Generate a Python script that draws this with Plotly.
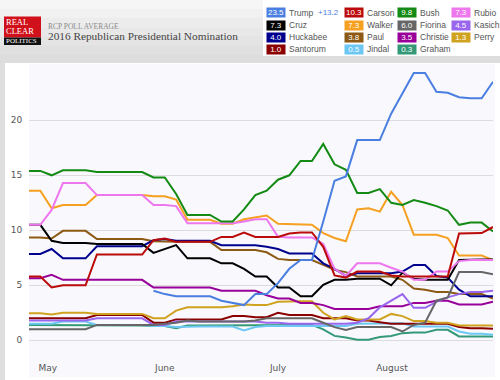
import plotly.graph_objects as go

# ---------------- data ----------------
dates = ["2015-04-28", "2015-05-01", "2015-05-04", "2015-05-07", "2015-05-10", "2015-05-13",
         "2015-05-16", "2015-05-19", "2015-05-22", "2015-05-25", "2015-05-28", "2015-05-31",
         "2015-06-03", "2015-06-06", "2015-06-09", "2015-06-12", "2015-06-15", "2015-06-18",
         "2015-06-21", "2015-06-24", "2015-06-27", "2015-06-30", "2015-07-03", "2015-07-06",
         "2015-07-09", "2015-07-12", "2015-07-15", "2015-07-18", "2015-07-21", "2015-07-24",
         "2015-07-27", "2015-07-30", "2015-08-02", "2015-08-05", "2015-08-08", "2015-08-11",
         "2015-08-14", "2015-08-17", "2015-08-20", "2015-08-23", "2015-08-26", "2015-08-29"]

trump = [None] * 11 + [4.5, 4.2, 4.0, 4.0, 4.0, 4.0, 3.6, 3.4, 3.2, 4.2, 4.2, 5.2, 6.5, 7.3, 7.3,
                       10.8, 14.5, 14.9, 18.2, 18.2, 18.2, 20.6, 22.4, 24.3, 24.3, 22.6, 22.5,
                       22.1, 22.0, 22.0, 23.5]
bush = [15.4, 15.4, 15.0, 15.45, 15.45, 15.45, 15.3, 15.3, 15.3, 15.3, 15.3, 14.8, 14.8, 13.3,
        11.4, 11.4, 11.4, 10.8, 10.8, 11.9, 13.2, 13.6, 14.6, 15.0, 16.3, 16.3, 17.85, 16.0,
        15.5, 13.4, 13.4, 13.75, 12.5, 12.3, 12.75, 12.5, 12.2, 11.8, 10.5, 10.7, 10.7, 9.9]
walker = [13.6, 13.6, 12.0, 12.3, 12.3, 12.3, 13.2, 13.2, 13.2, 13.2, 13.2, 13.1, 13.1, 12.8,
          10.95, 10.95, 10.95, 10.6, 10.6, 11.0, 11.2, 11.35, 10.6, 10.55, 10.55, 10.5, 9.75,
          9.3, 9.0, 11.9, 12.0, 11.7, 13.5, 12.3, 9.6, 9.6, 9.6, 9.3, 7.7, 7.7, 7.7, 7.3]
rubio = [10.5, 10.5, 11.85, 14.3, 14.3, 14.3, 13.2, 13.2, 13.2, 13.2, 13.2, 12.3, 12.3, 12.2,
         10.65, 10.65, 10.65, 10.65, 10.65, 10.8, 11.0, 11.0, 9.4, 9.35, 9.35, 9.35, 8.75, 6.5,
         5.85, 7.0, 7.0, 7.0, 6.6, 6.25, 5.5, 5.5, 6.25, 6.25, 7.2, 7.3, 7.3, 7.3]
carson = [5.8, 5.8, 4.8, 5.0, 5.0, 5.0, 7.8, 7.8, 7.8, 7.8, 7.8, 9.1, 9.25, 8.95, 8.95, 8.95,
          8.95, 9.4, 9.4, 9.8, 9.4, 9.4, 9.4, 9.7, 9.8, 9.8, 8.5, 5.9, 5.7, 6.25, 6.25, 6.25,
          5.9, 5.8, 5.8, 5.8, 5.8, 5.8, 9.7, 9.75, 9.75, 10.3]
cruz = [10.5, 10.5, 9.05, 8.85, 8.85, 8.85, 8.75, 8.75, 8.75, 8.75, 8.75, 7.95, 8.3, 8.65, 7.45,
        7.45, 7.45, 7.0, 7.0, 6.5, 5.8, 5.8, 4.8, 4.8, 4.0, 4.0, 5.05, 5.5, 5.5, 5.6, 5.6, 5.6,
        5.0, 6.15, 5.6, 5.5, 5.5, 5.5, 7.3, 7.35, 7.35, 7.35]
huckabee = [7.85, 7.85, 8.3, 7.45, 7.45, 7.45, 8.55, 8.55, 8.55, 8.55, 8.55, 9.1, 9.2, 9.05,
            9.05, 9.05, 9.05, 8.65, 8.65, 8.65, 8.65, 8.5, 8.3, 7.9, 7.9, 7.9, 7.0, 6.5, 5.85,
            6.1, 6.1, 6.1, 6.1, 6.25, 6.85, 6.85, 5.85, 5.7, 4.6, 4.0, 4.0, 4.0]
paul = [9.35, 9.35, 9.25, 9.95, 9.95, 9.95, 9.2, 9.2, 9.2, 9.2, 9.2, 9.0, 8.95, 8.95, 8.95,
        8.95, 8.95, 8.2, 8.2, 8.2, 8.2, 8.0, 7.4, 7.3, 7.3, 7.3, 6.85, 6.4, 6.2, 5.8, 5.8, 5.8,
        5.8, 5.5, 4.7, 4.6, 4.4, 4.4, 4.2, 4.2, 4.2, 3.8]
christie = [5.65, 5.65, 5.95, 5.5, 5.5, 5.5, 5.5, 5.5, 5.5, 5.5, 5.5, 4.8, 4.8, 4.8, 4.8, 4.8,
            4.8, 4.5, 4.5, 4.5, 4.5, 4.1, 3.8, 3.8, 3.4, 3.4, 3.2, 2.85, 2.85, 2.85, 2.85, 3.1,
            3.1, 3.1, 3.4, 3.4, 3.6, 3.6, 3.25, 3.25, 3.25, 3.5]
fiorina = [1.0, 1.0, 1.0, 1.0, 1.0, 1.0, 1.4, 1.4, 1.4, 1.4, 1.4, 1.4, 1.5, 1.6, 1.8, 1.7, 1.7,
           1.7, 1.7, 1.7, 1.8, 2.0, 2.0, 2.0, 2.0, 2.0, 1.6, 1.2, 0.95, 1.2, 1.2, 1.2, 1.2, 0.8,
           1.4, 1.6, 3.6, 3.9, 6.2, 6.2, 6.2, 6.0]
perry = [2.45, 2.45, 2.35, 2.5, 2.5, 2.5, 2.4, 2.4, 2.4, 2.4, 2.4, 2.0, 2.0, 2.7, 3.0, 3.0, 3.0,
         3.0, 3.1, 3.25, 3.2, 3.2, 3.5, 3.55, 3.55, 3.55, 2.5, 1.9, 2.2, 1.9, 1.9, 1.9, 2.4, 2.2,
         1.75, 1.75, 1.6, 1.6, 1.35, 1.35, 1.35, 1.35]
santorum = [2.0, 2.0, 2.0, 2.0, 2.0, 2.0, 2.3, 2.3, 2.3, 2.3, 2.3, 1.6, 1.6, 1.9, 1.9, 1.9, 1.9,
            1.9, 2.2, 2.2, 2.1, 2.1, 2.5, 2.3, 2.3, 2.3, 2.0, 2.0, 2.0, 1.8, 1.8, 1.65, 1.5, 1.5,
            1.5, 1.5, 1.5, 1.5, 1.2, 1.1, 1.1, 1.05]
kasich = [1.8, 1.8, 1.8, 1.8, 1.8, 1.8, 2.0, 2.0, 2.0, 2.0, 2.0, 1.4, 1.4, 1.7, 1.7, 1.7, 1.7,
          1.7, 1.7, 1.7, 1.7, 1.6, 1.6, 1.5, 1.5, 1.5, 1.5, 1.5, 1.5, 1.6, 2.0, 3.0, 3.6, 4.2,
          2.95, 2.95, 3.5, 3.9, 4.2, 4.4, 4.4, 4.5]
jindal = [1.5, 1.5, 1.5, 1.7, 1.7, 1.7, 1.4, 1.4, 1.4, 1.4, 1.4, 1.3, 1.3, 1.2, 1.25, 1.25, 1.25,
          1.25, 1.25, 0.9, 1.2, 1.3, 1.3, 1.3, 1.3, 1.3, 1.3, 1.3, 1.3, 1.5, 1.5, 1.5, 1.55, 1.55,
          1.25, 1.25, 1.25, 1.25, 0.8, 0.6, 0.6, 0.5]
graham = [1.4, 1.4, 1.4, 1.35, 1.35, 1.35, 1.35, 1.35, 1.35, 1.35, 1.35, 1.3, 1.3, 1.1, 1.35,
          1.35, 1.35, 1.35, 1.35, 1.35, 1.35, 1.4, 1.4, 1.4, 1.4, 1.4, 1.0, 0.4, 0.25, 0.05, 0.05,
          0.3, 0.4, 0.65, 0.7, 0.7, 0.95, 0.95, 0.35, 0.35, 0.35, 0.35]

names = ["Trump", "Carson", "Bush", "Rubio",
         "Cruz", "Walker", "Fiorina", "Kasich",
         "Huckabee", "Paul", "Christie", "Perry",
         "Santorum", "Jindal", "Graham"]
latest = ["23.5", "10.3", "9.8", "7.3",
          "7.3", "7.3", "6.0", "4.5",
          "4.0", "3.8", "3.5", "1.3",
          "1.0", "0.5", "0.3"]
spread = "+13.2"
month_ticks = ["2015-05-03", "2015-06-03", "2015-07-03", "2015-08-02 05:00"]
month_labels = ["May", "June", "July", "August"]
y_ticks = [0, 5, 10, 15, 20]

series = {"Trump": trump, "Carson": carson, "Bush": bush, "Rubio": rubio,
          "Cruz": cruz, "Walker": walker, "Fiorina": fiorina, "Kasich": kasich,
          "Huckabee": huckabee, "Paul": paul, "Christie": christie, "Perry": perry,
          "Santorum": santorum, "Jindal": jindal, "Graham": graham}

colors = {"Trump": "#4a7ee0", "Carson": "#bb0a0a", "Bush": "#138a13", "Rubio": "#ee77ee",
          "Cruz": "#000000", "Walker": "#f5a020", "Fiorina": "#666666", "Kasich": "#9966ee",
          "Huckabee": "#00008f", "Paul": "#8c5a14", "Christie": "#990099", "Perry": "#cfa21f",
          "Santorum": "#8b0000", "Jindal": "#6cc8f2", "Graham": "#339977"}

# ---------------- figure ----------------
W, H = 500, 380
L, R, T, B = 29, 7, 64, 25
PW, PH = W - L - R, H - T - B


def fx(px):
    return (px - L) / PW


def fy(py):
    return (H - B - py) / PH


fig = go.Figure()
for name in reversed(names):
    fig.add_trace(go.Scatter(x=dates, y=series[name], mode="lines", name=name,
                             line=dict(color=colors[name], width=2), showlegend=False,
                             hoverinfo="x+y+name"))

shapes = []
bands = ["#f6f6f6", "#f1f1f1", "#ececec", "#e8e8e8", "#e4e4e4", "#e0e0e0", "#dddddd"]
bh = 64 / len(bands)
for i, c in enumerate(bands):
    shapes.append(dict(type="rect", xref="paper", yref="paper", x0=fx(0), x1=fx(W),
                       y0=fy(i * bh + bh + 0.5), y1=fy(i * bh), fillcolor=c, line_width=0,
                       layer="below"))
shapes.append(dict(type="rect", xref="paper", yref="paper", x0=fx(5), x1=fx(W), y0=fy(H),
                   y1=fy(63), fillcolor="#ffffff", line_width=0, layer="below"))
shapes.append(dict(type="rect", xref="paper", yref="paper", x0=fx(29), x1=fx(495), y0=fy(377),
                   y1=fy(64), fillcolor="#f9f9fd", line_width=0, layer="below"))
shapes.append(dict(type="rect", xref="paper", yref="paper", x0=fx(263), x1=fx(W), y0=fy(56),
                   y1=fy(0), fillcolor="#ffffff", line_width=0, layer="below"))
shapes.append(dict(type="rect", xref="paper", yref="paper", x0=fx(4), x1=fx(41), y0=fy(37.5),
                   y1=fy(16.5), fillcolor="#d0101a", line_width=0, layer="below"))
shapes.append(dict(type="rect", xref="paper", yref="paper", x0=fx(4), x1=fx(41), y0=fy(45),
                   y1=fy(37.5), fillcolor="#111111", line_width=0, layer="below"))

ann = []
serif = "Liberation Serif"
sans = "Liberation Sans"


def note(text, px, py, size, color, family=serif, **kw):
    d = dict(text=text, xref="paper", yref="paper", x=fx(px), y=fy(py), xanchor="left",
             yanchor="middle", font=dict(family=family, size=size, color=color),
             showarrow=False)
    d.update(kw)
    ann.append(d)


note("REAL", 4, 22, 8.5, "#ffffff")
note("CLEAR", 4, 31, 8.5, "#ffffff")
note("POLITICS", 3.5, 41.3, 7, "#ffffff")
note("RCP POLL AVERAGE", 46, 26, 7.5, "#8a8a8a")
note("2016 Republican Presidential Nomination", 46, 36.5, 11.3, "#444444")

col_x = [266, 344, 397, 451]
row_y = [13, 25, 37, 49.5]
for i, name in enumerate(names):
    r, c = divmod(i, 4)
    bx, by = col_x[c], row_y[r]
    note(latest[i], bx, by, 8, "#ffffff", family=sans, width=18, height=9,
         bgcolor=colors[name], borderpad=0, align="center")
    note(name, bx + 21, by, 8.5, "#555555", family=sans)
note(spread, 316, 13, 8, "#4a7ee0", family=sans)

y0v = (340.3 - (H - B)) / 11
y1v = (340.3 - T) / 11

fig.update_layout(
    width=W, height=H,
    margin=dict(l=L, r=R, t=T, b=B, pad=0),
    paper_bgcolor="#dedede",
    plot_bgcolor="#f9f9fd",
    shapes=shapes,
    annotations=ann,
    xaxis=dict(type="date", range=[dates[0], dates[-1]], tickmode="array",
               tickvals=month_ticks, ticktext=month_labels, showgrid=False, zeroline=False,
               showline=False, ticks="outside", ticklen=4, tickcolor="rgba(0,0,0,0)",
               tickfont=dict(family="DejaVu Sans", size=9, color="#555555"), fixedrange=True,
               automargin=False),
    yaxis=dict(range=[y0v, y1v], tickmode="array", tickvals=y_ticks, showgrid=True,
               gridcolor="#dcdcdc", gridwidth=1, zeroline=False, showline=False,
               ticks="outside", ticklen=4, tickcolor="rgba(0,0,0,0)",
               tickfont=dict(family="DejaVu Sans", size=9, color="#555555"), fixedrange=True,
               automargin=False),
    hovermode="closest",
)

fig.write_html("out.html", config={"displayModeBar": False},
               post_script="document.body.style.margin='0';document.body.style.padding='0';"
                           "document.body.style.overflow='hidden';")
